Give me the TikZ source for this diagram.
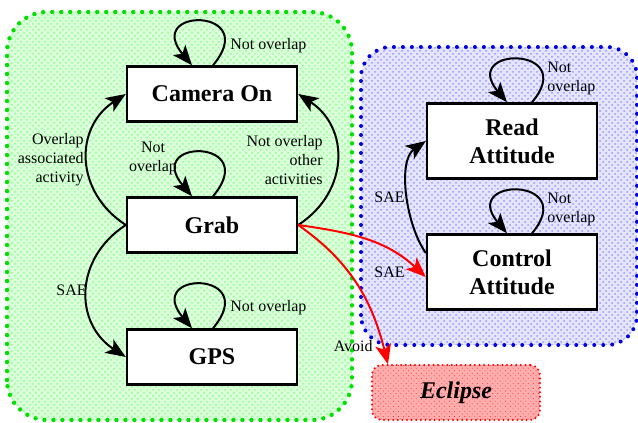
\documentclass[tikz,border=0pt]{standalone}
\usepackage{fontspec}
\setmainfont{Liberation Serif}
\usetikzlibrary{arrows.meta,patterns,patterns.meta}

\definecolor{grpgreen}{RGB}{0,225,0}
\definecolor{grpblue}{RGB}{0,0,225}

\tikzset{
  state/.style={draw=black,line width=1.2pt,fill=white,align=center,inner sep=2pt,
    minimum width=85pt,minimum height=27.5pt,font=\fontsize{12}{14}\selectfont\bfseries},
  avoidbox/.style={draw=red,line width=1.1pt,dash pattern=on 0pt off 2.3pt,line cap=round,
    rounded corners=5pt,preaction={fill=red!32},pattern={Lines[angle=45,distance=1.8pt,line width=.7pt]},pattern color=red!85,
    minimum width=84pt,minimum height=27.5pt,font=\fontsize{12}{14}\selectfont\bfseries\itshape},
  lbl/.style={font=\fontsize{8}{9.5}\selectfont,inner sep=1pt},
  arr/.style={line width=1pt,-{Stealth[length=10pt,width=8pt,inset=2.5pt]}},
}

\begin{document}
\begin{tikzpicture}[x=.5pt,y=.5pt]
\useasboundingbox (0,0) rectangle (638,423);
% groups
\path[preaction={fill=green!14},pattern=crosshatch dots,pattern color=green!45,draw=grpgreen,line width=2.2pt,dash pattern=on 0pt off 4.5pt,line cap=round,rounded corners=20pt] (7,3) rectangle (352,411);
\path[preaction={fill=blue!10},pattern=crosshatch dots,pattern color=blue!40,draw=grpblue,line width=2pt,dash pattern=on 0pt off 4.5pt,line cap=round,rounded corners=15pt] (361,78) rectangle (637,376);
% states
\node[state] (cam) at (212,329) {Camera On};
\node[state] (grab) at (212,198) {Grab};
\node[state] (gps) at (212,66) {GPS};
\node[state,minimum height=37.5pt] (read) at (512,282) {Read\\Attitude};
\node[state,minimum height=37.5pt] (ctrl) at (512,151) {Control\\Attitude};
\node[avoidbox] (ecl) at (456,30.5) {Eclipse};
% self loops
\draw[arr] ([xshift=.5pt]cam.north) .. controls +(50:38pt) and +(130:38pt) .. ([xshift=-10pt]cam.north);
\draw[arr] ([xshift=.5pt]grab.north) .. controls +(50:38pt) and +(130:38pt) .. ([xshift=-10pt]grab.north);
\draw[arr] ([xshift=.5pt]gps.north) .. controls +(50:38pt) and +(130:38pt) .. ([xshift=-10pt]gps.north);
\draw[arr] ([xshift=10pt]read.north) .. controls +(50:37pt) and +(130:37pt) .. ([xshift=-2.5pt]read.north);
\draw[arr] ([xshift=10pt]ctrl.north) .. controls +(50:37pt) and +(130:37pt) .. ([xshift=-2.5pt]ctrl.north);
% transitions
\draw[arr] (grab.west) to[out=147,in=213,looseness=1.2] (cam.west);
\draw[arr] (grab.east) to[out=33,in=-33,looseness=1.2] (cam.east);
\draw[arr] (grab.west) to[out=213,in=147,looseness=1.2] (gps.west);
\draw[arr] ([yshift=9.5pt]ctrl.west) to[out=125,in=215,looseness=.8] (read.west);
\draw[arr,red] (grab.east) to[out=-8,in=137] ([yshift=-2.5pt]ctrl.west);
\draw[arr,red] (grab.east) to[out=-35,in=104] ([xshift=-34pt]ecl.north);
% labels
\node[lbl,anchor=west] (camlbl) at (228,377) {Not overlap};
\node[lbl,align=center] (grablbl) at (153,265) {Not\\overlap};
\node[lbl,anchor=west] (gpslbl) at (228,115) {Not overlap};
\node[lbl,anchor=west,align=left] (readlbl) at (545,345) {Not\\overlap};
\node[lbl,anchor=west,align=left] (ctrllbl) at (545,214) {Not\\overlap};
\node[lbl,anchor=east,align=right] (ovlbl) at (86,263) {Overlap\\associated\\activity};
\node[lbl,anchor=east,align=right] (notovlbl) at (325,263) {Not overlap\\other\\activities};
\node[lbl,anchor=east] (saelbl) at (89,133) {SAE};
\node[lbl,anchor=east] (readsaelbl) at (407,226) {SAE};
\node[lbl,anchor=east] (ctrlsaelbl) at (407,151) {SAE};
\node[lbl,anchor=east] (avoidlbl) at (375,77) {Avoid};
\end{tikzpicture}
\end{document}
